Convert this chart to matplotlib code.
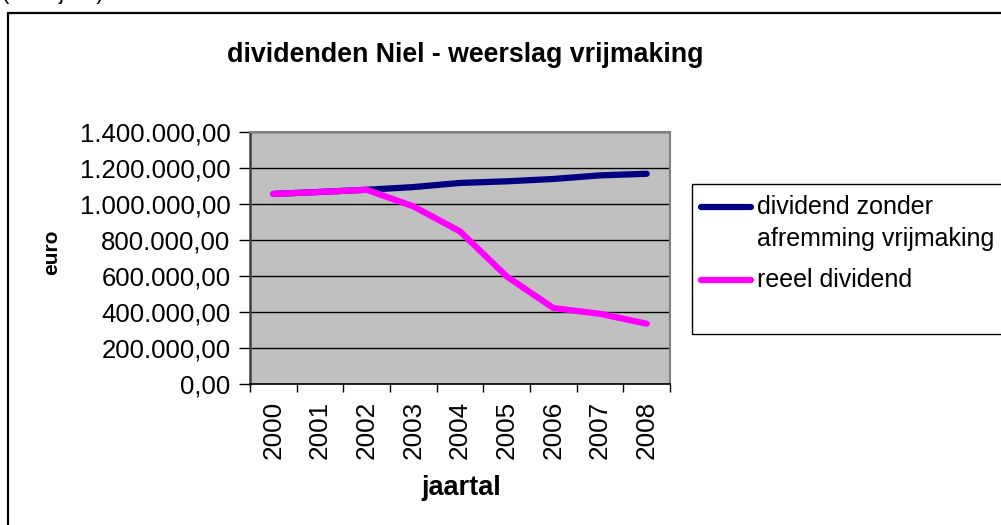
import matplotlib.pyplot as plt
from matplotlib.lines import Line2D
from matplotlib.patches import Rectangle
from matplotlib.ticker import FuncFormatter, FixedLocator

plt.rcParams["font.family"] = ["Liberation Sans", "DejaVu Sans"]

years = ["2000", "2001", "2002", "2003", "2004", "2005", "2006", "2007", "2008"]
zonder = [1056000, 1067000, 1079000, 1094000, 1117000, 1126000, 1139000, 1159000, 1168000]
reeel = [1056000, 1067000, 1079000, 987000, 848000, 598000, 422000, 390000, 335000]
yticks = [0, 200000, 400000, 600000, 800000, 1000000, 1200000, 1400000]
label_zonder = "dividend zonder\nafremming vrijmaking"
label_reeel = "reeel dividend"

W, H = 1001, 525
fig = plt.figure(figsize=(W / 100, H / 100), dpi=100)
fig.patch.set_facecolor("white")

def fx(px):
    return px / W

def fy(py):
    return 1 - py / H

ax = fig.add_axes([fx(250), fy(384), fx(670) - fx(250), fy(132) - fy(384)])
ax.set_facecolor("#C0C0C0")

x = list(range(len(years)))
l1, = ax.plot(x, zonder, color="#000080", lw=4.5, solid_capstyle="round", solid_joinstyle="round", zorder=3)
l2, = ax.plot(x, reeel, color="#FF00FF", lw=4.5, solid_capstyle="round", solid_joinstyle="round", zorder=4)

ax.set_xlim(-0.5, len(years) - 0.5)
ax.set_ylim(0, 1400000)

# y axis
ax.yaxis.set_major_locator(FixedLocator(yticks))
fmt = lambda v, p: f"{v:,.2f}".replace(",", "X").replace(".", ",").replace("X", ".")
ax.yaxis.set_major_formatter(FuncFormatter(fmt))
ax.tick_params(axis="y", length=8, width=1, color="black", pad=6, labelsize=18.5, direction="out")
ax.grid(axis="y", color="black", lw=1)
ax.set_axisbelow(True)

# x axis: ticks between categories, labels at centres
ax.xaxis.set_major_locator(FixedLocator([i - 0.5 for i in range(len(years) + 1)]))
ax.xaxis.set_minor_locator(FixedLocator(x))
ax.xaxis.set_major_formatter(FuncFormatter(lambda v, p: ""))
ax.set_xticks(x, years, minor=True, rotation=90)
ax.tick_params(axis="x", which="major", length=6, width=1, color="black", direction="out")
ax.tick_params(axis="x", which="minor", length=0, pad=12, labelsize=18.8)

for s in ["top", "right"]:
    ax.spines[s].set_color("#808080")
    ax.spines[s].set_linewidth(1.5)
ax.spines["left"].set_color("#404040")
ax.spines["left"].set_linewidth(1.8)
ax.spines["bottom"].set_color("black")
ax.spines["bottom"].set_linewidth(1.2)

# texts
fig.text(fx(465), fy(62), "dividenden Niel - weerslag vrijmaking", ha="center", va="baseline",
         fontsize=19.3, fontweight="bold")
fig.text(fx(461), fy(495), "jaartal", ha="center", va="baseline", fontsize=19.5, fontweight="bold")
fig.text(fx(52), fy(252), "euro", ha="center", va="center", rotation=90, fontsize=15, fontweight="bold")
fig.text(fx(2), fy(-0.5), "(euro/jaar)", ha="left", va="baseline", fontsize=16)

# outer chart frame
fig.add_artist(Rectangle((fx(8), -0.1), 1.2, fy(13) + 0.1, transform=fig.transFigure,
                         fill=False, edgecolor="black", lw=1.6))

# legend
fig.add_artist(Rectangle((fx(692), fy(334)), 0.5, fy(184) - fy(334), transform=fig.transFigure,
                         facecolor="white", edgecolor="black", lw=1.0))
for line, ypx in [(l1, 207), (l2, 280)]:
    fig.add_artist(Line2D([fx(701), fx(751)], [fy(ypx), fy(ypx)], transform=fig.transFigure,
                          color=line.get_color(), lw=4.5, solid_capstyle="round"))
fig.text(fx(757), fy(223), label_zonder, ha="left", va="center", fontsize=18, linespacing=1.45)
fig.text(fx(757), fy(280), label_reeel, ha="left", va="center", fontsize=18)

fig.savefig("out.png", dpi=100)
